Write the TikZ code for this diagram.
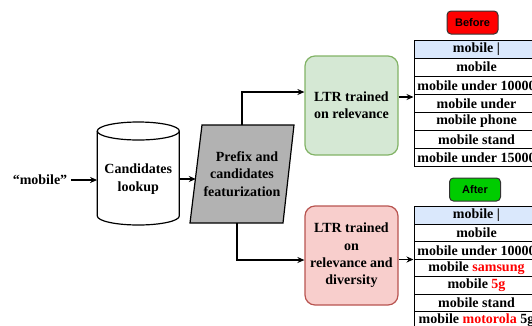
\documentclass[tikz,border=0pt]{standalone}
\usepackage{fontspec}
\setmainfont{Liberation Serif}
\newfontfamily\sansf{Liberation Sans}
\usetikzlibrary{arrows.meta}
\definecolor{gfill}{HTML}{D5E8D4}
\definecolor{gline}{HTML}{82B366}
\definecolor{rfill}{HTML}{F8CECC}
\definecolor{rline}{HTML}{B85450}
\definecolor{hdr}{HTML}{DAE8FC}
\definecolor{featgray}{RGB}{178,178,178}
\definecolor{btnred}{HTML}{FF0000}
\definecolor{btngreen}{HTML}{00CC00}
\definecolor{hl}{HTML}{FF0000}
\tikzset{
  conn/.style={line width=1.2pt,-{Stealth[length=7pt,width=6pt]}},
  plain/.style={line width=1.2pt},
  ltrbox/.style={draw,line width=1.2pt,rounded corners=10pt,minimum width=93pt,minimum height=99pt,align=center},
  rowtop/.style={draw,line width=1pt,minimum width=125pt,minimum height=18.1pt,inner sep=0pt},
  rowbot/.style={draw,line width=1pt,minimum width=125pt,minimum height=17.5pt,inner sep=0pt},
  btn/.style={draw=black!80,line width=1pt,rounded corners=4pt,minimum width=51pt,minimum height=23pt,inner sep=0pt,font=\sansf\fontsize{11}{13}\selectfont\bfseries},
}
\begin{document}
\begin{tikzpicture}[x=1pt,y=-1pt,font=\fontsize{14}{17.3}\selectfont\bfseries]
\useasboundingbox (0,0) rectangle (532,325);
\clip (0,0) rectangle (532,325);

% input text
\node (mobile) at (40,180) {“mobile”};

% cylinder
\draw[plain,fill=white] (97.3,131) -- (97.3,216) arc[start angle=180,end angle=0,x radius=41,y radius=9] -- (179.3,131);
\draw[plain,fill=white] (138.3,131) ellipse[x radius=41,y radius=9];
\node[minimum width=82pt,minimum height=80pt,align=center] (cyl) at (138.3,179) {Candidates\\lookup};

% parallelogram
\draw[plain,fill=featgray] (202,125) -- (294,125) -- (283,223) -- (190,223) -- cycle;
\node[minimum width=92pt,minimum height=98pt,align=center] (feat) at (242,174) {\hspace*{10pt}Prefix and\\candidates\\featurization};

% LTR boxes
\node[ltrbox,fill=gfill,draw=gline] (green) at (351.5,105.5) {LTR trained\\on relevance};
\node[ltrbox,fill=rfill,draw=rline] (red) at (351.5,255.5) {LTR trained\\on\\relevance and\\diversity};

% buttons
\node[btn,fill=btnred] (before) at (472.5,22.5) {Before};
\node[btn,fill=btngreen] (after) at (475,189.5) {After};

% top table
\node[rowtop,fill=hdr] (t1) at (476.5,49.05) {mobile |};
\node[rowtop] (t2) at (476.5,67.15) {mobile};
\node[rowtop] (t3) at (476.5,85.25) {mobile under 10000};
\node[rowtop] (t4) at (476.5,103.35) {mobile under};
\node[rowtop] (t5) at (476.5,121.45) {mobile phone};
\node[rowtop] (t6) at (476.5,139.55) {mobile stand};
\node[rowtop] (t7) at (476.5,157.65) {mobile under 15000};

% bottom table
\node[rowbot,fill=hdr] (b1) at (476.5,215.45) {mobile |};
\node[rowbot] (b2) at (476.5,232.95) {mobile};
\node[rowbot] (b3) at (476.5,250.45) {mobile under 10000};
\node[rowbot] (b4) at (476.5,267.95) {mobile \textcolor{hl}{samsung}};
\node[rowbot] (b5) at (476.5,285.45) {mobile \textcolor{hl}{5g}};
\node[rowbot] (b6) at (476.5,302.95) {mobile stand};
\node[rowbot] (b7) at (476.5,320.45) {mobile \textcolor{hl}{motorola} 5g};

% connectors
\draw[conn] (mobile.east) -- (mobile.east -| cyl.west);
\draw[conn] (cyl.east) -- (cyl.east -| feat.west);
\draw[conn] (feat.north) |- ([yshift=13.5pt]green.west);
\draw[conn] ([xshift=-5pt]feat.south) |- ([yshift=-4.5pt]red.west);
\draw[conn] ([yshift=8.5pt]green.east) -- ([yshift=8.5pt]green.east -| t4.west);
\draw[conn] ([yshift=-4pt]red.east) -- ([yshift=-4pt]red.east -| b4.west);
\end{tikzpicture}
\end{document}
